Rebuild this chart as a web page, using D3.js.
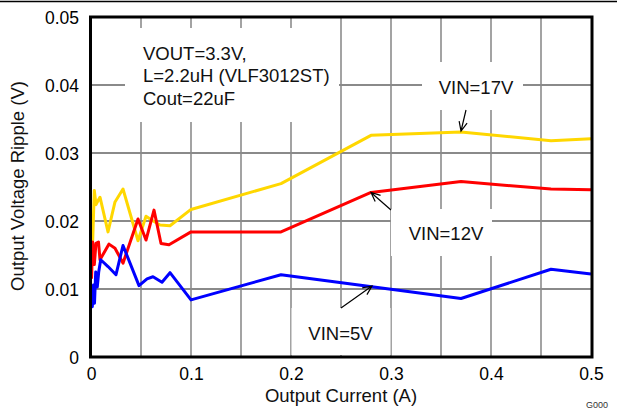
<!DOCTYPE html>
<html><head><meta charset="utf-8">
<script src="https://cdn.jsdelivr.net/npm/d3@7"></script>
<style>html,body{margin:0;padding:0;background:#fff;}svg{display:block;font-family:"Liberation Sans",Arial,sans-serif;}</style>
</head><body>
<svg id="c" width="617" height="412"></svg>
<script>
// Output current (A) and ripple (V) for each input voltage
const vin17Current = [0.0017,0.0033,0.005,0.0067,0.009,0.017,0.024,0.032,0.047,0.055,0.061,0.069,0.079,0.1,0.19,0.28,0.37,0.46,0.5];
const vin17Ripple  = [0.0171,0.0245,0.0224,0.0229,0.0235,0.0184,0.0228,0.0247,0.0171,0.0207,0.0201,0.0194,0.0193,0.0217,0.0255,0.0326,0.0331,0.0318,0.0321];
const vin12Current = [0.0005,0.0017,0.0033,0.005,0.0075,0.009,0.018,0.024,0.032,0.047,0.055,0.063,0.070,0.078,0.1,0.19,0.28,0.37,0.46,0.5];
const vin12Ripple  = [0.0115,0.0169,0.0136,0.0167,0.0169,0.0143,0.0166,0.0160,0.0138,0.0203,0.0172,0.0216,0.0167,0.0165,0.0184,0.0184,0.0242,0.0258,0.0247,0.0246];
const vin5Current  = [0.0003,0.0013,0.0025,0.0035,0.0047,0.0063,0.0077,0.0097,0.017,0.025,0.032,0.048,0.056,0.062,0.071,0.079,0.1,0.19,0.37,0.46,0.5];
const vin5Ripple   = [0.0098,0.0074,0.0106,0.0079,0.0125,0.0103,0.0125,0.0143,0.0133,0.0121,0.0164,0.0105,0.0115,0.0118,0.0110,0.0124,0.0084,0.0121,0.0086,0.0129,0.0122];
const seriesNames  = ["VIN=17V","VIN=12V","VIN=5V"];
const seriesColors = ["#FFD700","#FF0000","#0000FF"];
const xTicks = [0,0.1,0.2,0.3,0.4,0.5];
const xGrid  = [0.05,0.1,0.15,0.2,0.25,0.3,0.35,0.4,0.45];
const yTicks = [0,0.01,0.02,0.03,0.04,0.05];
const yTickLabels = ["0","0.01","0.02","0.03","0.04","0.05"];
const infoLines = ["VOUT=3.3V,","L=2.2uH (VLF3012ST)","Cout=22uF"];
const xTitle = "Output Current (A)";
const yTitle = "Output Voltage Ripple (V)";

const svg = d3.select("#c");
const L=91, R=591, T=17, B=357;
const x = d3.scaleLinear().domain([0,0.5]).range([L,R]);
const y = d3.scaleLinear().domain([0,0.05]).range([B,T]);

// header rule
svg.append("line").attr("x1",0).attr("x2",617).attr("y1",1.5).attr("y2",1.5).attr("stroke","#000").attr("stroke-width",1.5);

// grid
const g = svg.append("g");
g.selectAll(".vg").data(xGrid).join("line").attr("x1",d=>x(d)).attr("x2",d=>x(d)).attr("y1",T).attr("y2",B)
  .attr("stroke","#666").attr("stroke-width",1.2);
g.selectAll(".hg").data(yTicks.slice(1,-1)).join("line").attr("x1",L).attr("x2",R).attr("y1",d=>y(d)).attr("y2",d=>y(d))
  .attr("stroke","#8a8a8a").attr("stroke-width",1.8);

// white label boxes
const boxes = [[125,28,214,94],[422,62,101,48],[391,209,101,47],[291.5,308,99,47]];
svg.selectAll(".bx").data(boxes).join("rect").attr("x",d=>d[0]).attr("y",d=>d[1]).attr("width",d=>d[2]).attr("height",d=>d[3]).attr("fill","#fff");

// axes
const xAxis = d3.axisBottom(x).tickValues(xTicks).tickSize(0).tickPadding(11).tickFormat(d3.format("~g"));
const yAxis = d3.axisLeft(y).tickValues(yTicks).tickSize(0).tickPadding(12).tickFormat((d,i)=>yTickLabels[i]);
const xa = svg.append("g").attr("transform",`translate(0,${B})`).call(xAxis);
const ya = svg.append("g").attr("transform",`translate(${L},0)`).call(yAxis);
[xa,ya].forEach(a=>{a.select(".domain").remove();a.selectAll("text").attr("font-size",17.5).attr("fill","#000").attr("font-family","Liberation Sans, Arial, sans-serif");});
ya.selectAll("text").attr("dy","0.36em");

// data lines
const all = [[vin17Current,vin17Ripple],[vin12Current,vin12Ripple],[vin5Current,vin5Ripple]];
const line = d3.line().x(d=>x(d[0])).y(d=>y(d[1]));
all.forEach((s,i)=>{
  const pts = s[0].map((c,j)=>[c,s[1][j]]);
  svg.append("path").datum(pts).attr("d",line).attr("fill","none").attr("stroke",seriesColors[i]).attr("stroke-width",3).attr("stroke-linejoin","round");
});

// frame
svg.append("rect").attr("x",L-0.5).attr("y",T).attr("width",R-L+1.5).attr("height",B-T).attr("fill","none").attr("stroke","#000").attr("stroke-width",3);

// annotations
const info = svg.append("text").attr("x",143).attr("font-size",18.5).attr("fill","#111");
infoLines.forEach((t,i)=>info.append("tspan").attr("x",143).attr("y",60+i*22.3).text(t));
const labelPos = [[476,93.5],[446,239.5],[340.5,339.5]];
seriesNames.forEach((n,i)=>svg.append("text").attr("x",labelPos[i][0]).attr("y",labelPos[i][1]).attr("text-anchor","middle").attr("font-size",18.5).attr("fill","#111").text(n));

// arrows
const arrows = [[466,110,461,131],[391,210,371,192.5],[341,308,372,286]];
arrows.forEach(a=>{
  const [x1,y1,x2,y2]=a;
  const ang=Math.atan2(y2-y1,x2-x1), hl=10, ha=0.42;
  const p = d3.path();
  p.moveTo(x1,y1); p.lineTo(x2,y2);
  p.moveTo(x2-hl*Math.cos(ang-ha),y2-hl*Math.sin(ang-ha)); p.lineTo(x2,y2); p.lineTo(x2-hl*Math.cos(ang+ha),y2-hl*Math.sin(ang+ha));
  svg.append("path").attr("d",p.toString()).attr("fill","none").attr("stroke","#000").attr("stroke-width",1.2);
});

// titles
svg.append("text").attr("x",(L+R)/2).attr("y",402).attr("text-anchor","middle").attr("font-size",18.5).attr("fill","#111").text(xTitle);
svg.append("text").attr("transform","translate(24,186) rotate(-90)").attr("text-anchor","middle").attr("font-size",18.5).attr("fill","#111").text(yTitle);
svg.append("text").attr("x",608).attr("y",408).attr("text-anchor","end").attr("font-size",9).attr("fill","#333").text("G000");
</script>
</body></html>
